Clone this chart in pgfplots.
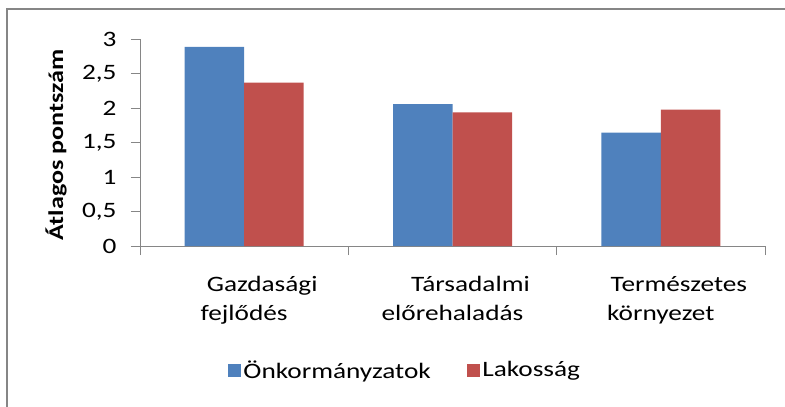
\documentclass[border=0pt]{standalone}
\usepackage{pgfplots}
\pgfplotsset{compat=1.18}
\usepackage{fontspec}
\setmainfont{Carlito}[FakeStretch=1.24]
\definecolor{xblue}{HTML}{4F81BD}
\definecolor{xred}{HTML}{C0504D}
\definecolor{axgray}{HTML}{868686}
\pgfplotsset{sqlegend/.style={legend image code/.code={\fill[##1] (0pt,-7pt) rectangle (13.5pt,6.5pt);}}}
\begin{document}
\begin{tikzpicture}
\useasboundingbox (0,0) rectangle (785pt,407pt);
\draw[axgray, line width=2pt] (7pt,-2pt) -- (7pt,398pt) -- (790pt,398pt);
\begin{axis}[
  at={(140pt,161pt)}, anchor=south west,
  scale only axis, width=625pt, height=206.7pt,
  xmin=-0.5, xmax=2.5, ymin=0, ymax=3,
  axis lines*=left,
  axis line style={axgray, line width=1pt},
  tick style={axgray, line width=1pt},
  tick align=outside, major tick length=9pt,
  ytick={0,0.5,1,1.5,2,2.5,3},
  /pgf/number format/use comma,
  /pgf/number format/assume math mode=true,
  yticklabel style={font=\fontsize{22}{26}\selectfont, anchor=east, xshift=-11pt},
  xtick={-0.5,0.5,1.5,2.5}, xticklabels={},
  extra x ticks={0,1,2},
  extra x tick labels={{\hspace*{36pt}Gazdasági\\fejlődés},{\hspace*{36pt}Társadalmi\\előrehaladás},{\hspace*{36pt}Természetes\\környezet}},
  extra x tick style={major tick length=0pt, tick label style={align=center, font=\fontsize{22}{29}\selectfont, anchor=north, yshift=-27pt}},
  ylabel={\bfseries Átlagos pontszám},
  ylabel style={font=\fontsize{21}{25}\selectfont, at={(axis description cs:-0.1344,0.489)}, anchor=center},
  legend columns=2,
  legend style={at={(0.424,-0.6)}, anchor=center, draw=none, fill=none,
    font=\fontsize{22}{26}\selectfont,
    /tikz/every even column/.append style={column sep=34pt}},
]
\addplot[ybar, bar width=59.5pt, bar shift=-29.75pt, fill=xblue, draw=none, sqlegend]
  coordinates {(0,2.89) (1,2.06) (2,1.645)};
\addplot[ybar, bar width=59.5pt, bar shift=29.75pt, fill=xred, draw=none, sqlegend]
  coordinates {(0,2.37) (1,1.94) (2,1.98)};
\legend{Önkormányzatok, Lakosság}
\end{axis}
\end{tikzpicture}
\end{document}
